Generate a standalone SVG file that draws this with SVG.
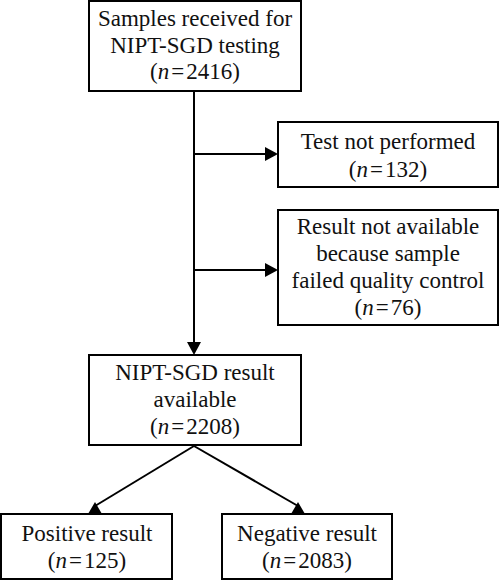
<svg xmlns="http://www.w3.org/2000/svg" width="500" height="581" viewBox="0 0 500 581">
<style>
.box{fill:#fff;stroke:#000;stroke-width:2}
.ln{stroke:#000;stroke-width:2;fill:none}
.ah{fill:#000;stroke:none}
text{font-size:23px;fill:#111;text-anchor:middle}
.i{font-style:italic}
</style>
<rect width="500" height="581" fill="#fff"/>
<g id="connectors">
<line class="ln" x1="194" y1="91" x2="194" y2="343"/>
<polygon class="ah" points="187,342 201,342 194,355"/>
<line class="ln" x1="194" y1="154" x2="266" y2="154"/>
<polygon class="ah" points="265,147 265,161 278,154"/>
<line class="ln" x1="194" y1="270" x2="266" y2="270"/>
<polygon class="ah" points="265,263 265,277 278,270"/>
<line class="ln" x1="194" y1="446" x2="95" y2="506"/>
<polygon class="ah" points="95,502 88,514 102,514"/>
<line class="ln" x1="194" y1="446" x2="298" y2="506"/>
<polygon class="ah" points="298,502 291,514 305,514"/>
</g>
<g font-family="'Liberation Serif', 'Times New Roman', 'DejaVu Serif', serif">
<g id="n1">
<rect class="box" x="89" y="1" width="212" height="90"/>
<text x="195" y="26">Samples received for</text>
<text x="195" y="53">NIPT-SGD testing</text>
<text x="195" y="79">(<tspan class="i">n</tspan><tspan dx="2">=</tspan><tspan dx="2">2416)</tspan></text>
</g>
<g id="n2">
<rect class="box" x="278" y="122" width="220" height="65"/>
<text x="388" y="149">Test not performed</text>
<text x="388" y="177">(<tspan class="i">n</tspan><tspan dx="2">=</tspan><tspan dx="2">132)</tspan></text>
</g>
<g id="n3">
<rect class="box" x="278" y="210" width="220" height="115"/>
<text x="388" y="234">Result not available</text>
<text x="388" y="261">because sample</text>
<text x="388" y="288">failed quality control</text>
<text x="388" y="315">(<tspan class="i">n</tspan><tspan dx="2">=</tspan><tspan dx="2">76)</tspan></text>
</g>
<g id="n4">
<rect class="box" x="89" y="355" width="212" height="90"/>
<text x="195" y="380">NIPT-SGD result</text>
<text x="195" y="407">available</text>
<text x="195" y="434">(<tspan class="i">n</tspan><tspan dx="2">=</tspan><tspan dx="2">2208)</tspan></text>
</g>
<g id="n5">
<rect class="box" x="1" y="514" width="171" height="65"/>
<text x="87" y="541">Positive result</text>
<text x="87" y="568">(<tspan class="i">n</tspan><tspan dx="2">=</tspan><tspan dx="2">125)</tspan></text>
</g>
<g id="n6">
<rect class="box" x="222" y="514" width="170" height="65"/>
<text x="307" y="541">Negative result</text>
<text x="307" y="568">(<tspan class="i">n</tspan><tspan dx="2">=</tspan><tspan dx="2">2083)</tspan></text>
</g>
</g>
</svg>
